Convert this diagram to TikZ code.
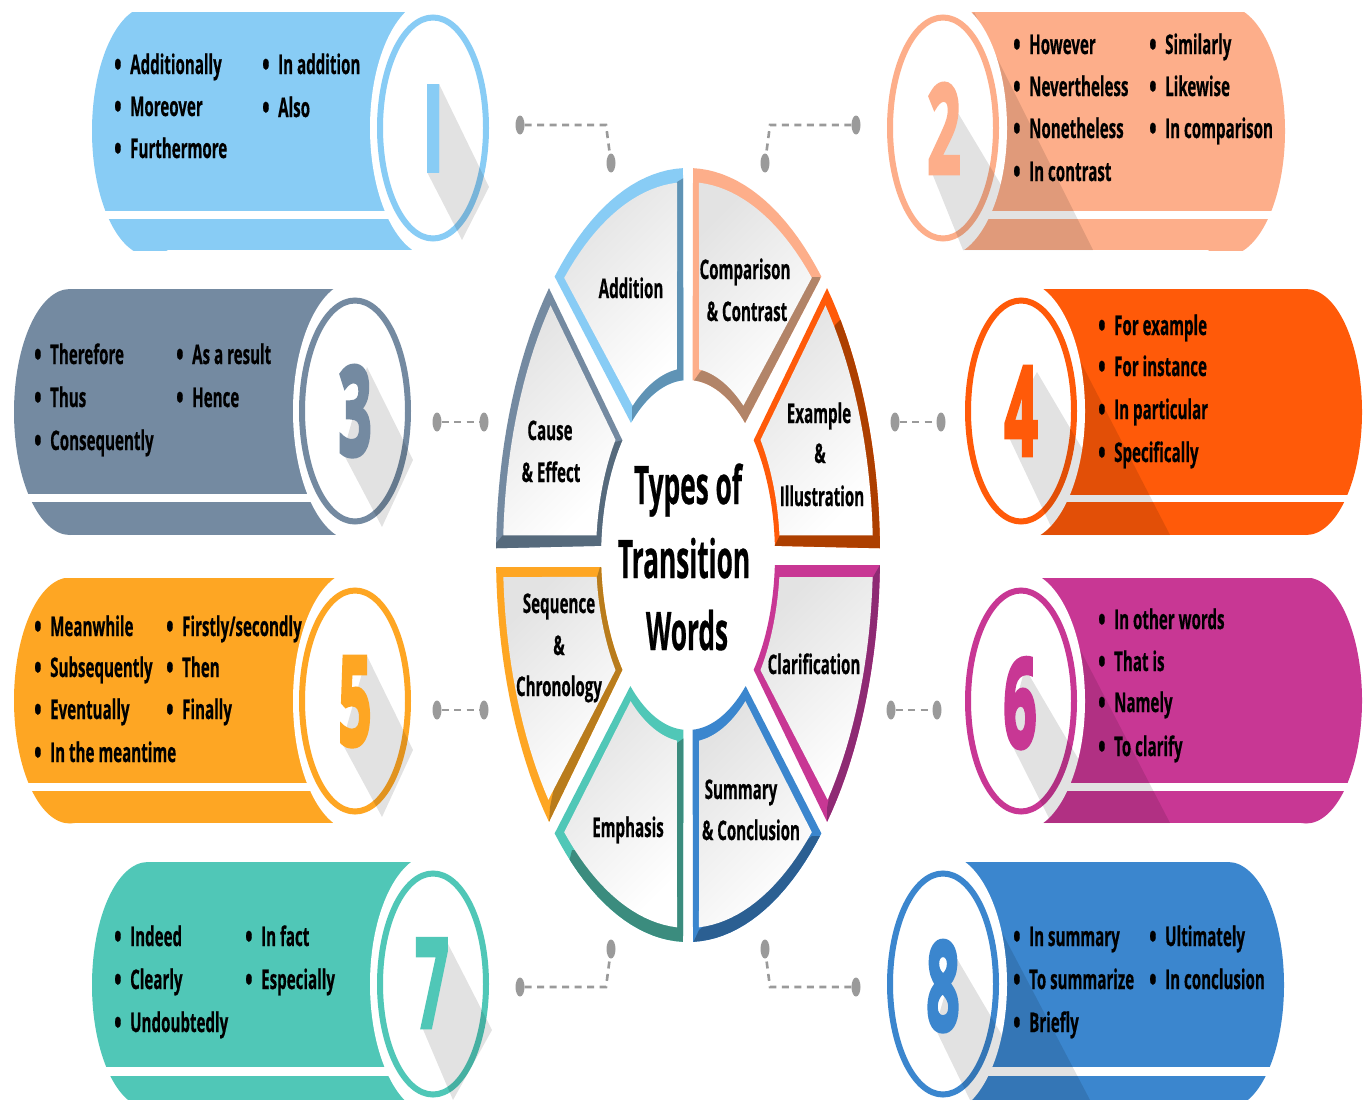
\documentclass[tikz,border=0pt]{standalone}
\usepackage{fontspec}
\usepackage{graphicx}
\setmainfont{Open Sans}[BoldFeatures={FakeBold=0.7}]
\newfontfamily\digitface{Open Sans}[BoldFeatures={FakeBold=4}]
\usetikzlibrary{shapes.geometric}
\definecolor{cA}{HTML}{88CCF5}\definecolor{cAd}{HTML}{5F93B5}
\definecolor{cB}{HTML}{FDAE8A}\definecolor{cBd}{HTML}{B28468}
\definecolor{cC}{HTML}{748AA1}\definecolor{cCd}{HTML}{566A7C}
\definecolor{cD}{HTML}{FF5A09}\definecolor{cDd}{HTML}{AD3F00}
\definecolor{cE}{HTML}{FEA623}\definecolor{cEd}{HTML}{B97C1C}
\definecolor{cF}{HTML}{C83794}\definecolor{cFd}{HTML}{8E2A73}
\definecolor{cG}{HTML}{50C7B7}\definecolor{cGd}{HTML}{3B8C7E}
\definecolor{cH}{HTML}{3B86CE}\definecolor{cHd}{HTML}{2B5F92}
\definecolor{dotgray}{HTML}{9A9A9A}
\newcommand{\sq}[1]{\scalebox{.56}[1]{#1}}
\newcommand{\sqt}[1]{\scalebox{.495}[1]{#1}}
\newcommand{\OA}[2]{plot[domain=#1:#2,samples=20] ({688+192*cos(\x)},{555-387*sin(\x)})}
\newcommand{\IA}[2]{-- plot[domain=#1:#2,samples=20] ({688+87*cos(\x)},{555-175*sin(\x)})}
\newcommand{\OB}[2]{plot[domain=#1:#2,samples=20] ({688+185*cos(\x)},{555-373*sin(\x)})}
\newcommand{\IB}[2]{-- plot[domain=#1:#2,samples=20] ({688+92*cos(\x)},{555-187*sin(\x)})}
\tikzset{
  itemtext/.style={anchor=base west,inner sep=0pt,font=\fontsize{27}{27}\selectfont\bfseries,text=black},
  seglabel/.style={anchor=base,inner sep=0pt,font=\fontsize{27}{27}\selectfont\bfseries,text=black},
  titletext/.style={anchor=base,inner sep=0pt,font=\fontsize{53}{53}\selectfont\bfseries,text=black},
  digit/.style={anchor=base,inner sep=0pt,font=\digitface\fontsize{123}{123}\selectfont\bfseries},
  cellfill/.style={top color=black!11,middle color=white,bottom color=white,shading angle=45},
  ringline/.style={line width=6pt,fill=none},
  shadowpoly/.style={fill=black,fill opacity=.115},
  dotend/.style={shape=ellipse,fill=dotgray,minimum width=9pt,minimum height=19pt,inner sep=0pt},
  conn/.style={draw=dotgray,line width=2.6pt,dash pattern=on 7pt off 5.5pt}
}
% name x y text (x = left edge of the words)
\newcommand{\bul}[4]{\node[itemtext] (#1) at ({#2-16},{#3-1}) {\sq{\makebox[28.5pt][l]{\raisebox{-3pt}{\scalebox{1.3}{•}}}#4}};}
\newcommand{\seglab}[4]{\node[seglabel] (#1) at (#2,#3) {\sq{#4}};}
% body: colour, ellipse x, ellipse rx, ellipse ry, ring x, top, bottom, unused, ellipse y shift
\newcommand{\body}[9]{%
  \begin{scope}
    \clip (0,#6) rectangle (1365,#7);
    \fill[#1] (#2,{(#6+#7)/2+#9}) ellipse [x radius=#3,y radius=#4];
    \fill[#1] (#2,#6) rectangle (#5,#7);
  \end{scope}}
\newcommand{\seg}[5]{%
  \fill[#1] #3;
  \begin{scope}\clip #3; \fill[#2] #4;\end{scope}
  \shade[cellfill] #5;}
\begin{document}
\begin{tikzpicture}[x=1pt,y=-1pt]
\useasboundingbox (0,0) rectangle (1365,1100);
\clip (0,0) rectangle (1365,1100);
\fill[white] (0,0) rectangle (1365,1100);

% ---------- panel 1
\body{cA}{150}{58}{125}{433}{12}{250}{}{0}
\fill[white] (0,211) rectangle (433,219);
\fill[white] (433,128) ellipse [x radius=63,y radius=129];
\draw[cA,ringline] (433,128) ellipse [x radius=53,y radius=110.5];
\fill[shadowpoly] (439,84) -- (489,187) -- (462,240) -- (427,172) -- cycle;
\begin{scope}\clip (427,84) rectangle (439,172);
\node[digit,anchor=base west,text=cA] (n1) at (406,172) {\scalebox{.65}[1]{1}};
\end{scope}
\bul{a1}{130}{75}{Additionally}
\bul{a2}{130}{117}{Moreover}
\bul{a3}{130}{159}{Furthermore}
\bul{a4}{278}{75}{In addition}
\bul{a5}{278}{118}{Also}

% ---------- panel 2
\body{cB}{1226}{59}{125}{943}{12}{250}{}{0}
\fill[white] (943,211) rectangle (1365,219);
\fill[shadowpoly] (974,12) -- (1093,250) -- (963,250) -- (900,130) -- cycle;
\fill[white] (943,128) ellipse [x radius=64,y radius=129];
\draw[cB,ringline] (943,128) ellipse [x radius=53,y radius=110.5];
\begin{scope}\clip (943,128) ellipse [x radius=64,y radius=129];
\fill[shadowpoly] (958,113) -- (1040,250) -- (963,250) -- (932,173) -- cycle;
\end{scope}
\node[digit,text=cB] (n2) at (944,173) {\scalebox{.47}[1]{2}};
\bul{b1}{1029}{55}{However}
\bul{b2}{1029}{97}{Nevertheless}
\bul{b3}{1029}{139}{Nonetheless}
\bul{b4}{1029}{182}{In contrast}
\bul{b5}{1165}{55}{Similarly}
\bul{b6}{1165}{97}{Likewise}
\bul{b7}{1165}{139}{In comparison}

% ---------- panel 3
\body{cC}{70}{56}{123}{355}{289}{535}{}{0}
\fill[white] (0,494) rectangle (355,502);
\fill[white] (355,411) ellipse [x radius=62,y radius=130];
\draw[cC,ringline] (355,411) ellipse [x radius=53,y radius=110.5];
\fill[shadowpoly] (367,367) -- (413,460) -- (382,527) -- (343,453) -- cycle;
\node[digit,text=cC] (n3) at (355,455) {\scalebox{.47}[1]{3}};
\bul{c1}{50}{365}{Therefore}
\bul{c2}{50}{408}{Thus}
\bul{c3}{50}{451}{Consequently}
\bul{c4}{192}{365}{As a result}
\bul{c5}{192}{408}{Hence}

% ---------- panel 4
\body{cD}{1306}{56}{123}{1021}{289}{535}{}{0}
\fill[white] (1021,495) rectangle (1365,502);
\fill[shadowpoly] (1043,289) -- (1170,535) -- (1040,535) -- (975,411) -- cycle;
\fill[white] (1021,411) ellipse [x radius=64,y radius=130];
\draw[cD,ringline] (1021,411) ellipse [x radius=53,y radius=110.5];
\begin{scope}\clip (1021,411) ellipse [x radius=64,y radius=130];
\fill[shadowpoly] (1037,372) -- (1133,535) -- (1055,535) -- (1005,429) -- cycle;
\end{scope}
\node[digit,text=cD] (n4) at (1021,455) {\scalebox{.47}[1]{4}};
\bul{d1}{1114}{336}{For example}
\bul{d2}{1114}{377}{For instance}
\bul{d3}{1114}{420}{In particular}
\bul{d4}{1114}{463}{Specifically}

% ---------- panel 5
\body{cE}{70}{56}{123}{355}{578}{823}{}{0}
\fill[white] (0,783) rectangle (355,791);
\fill[white] (355,701) ellipse [x radius=62,y radius=130];
\draw[cE,ringline] (355,701) ellipse [x radius=53,y radius=110.5];
\fill[shadowpoly] (367,656) -- (413,750) -- (382,817) -- (342,743) -- cycle;
\node[digit,text=cE] (n5) at (355,745) {\scalebox{.47}[1]{5}};
\bul{e1}{50}{637}{Meanwhile}
\bul{e2}{50}{678}{Subsequently}
\bul{e3}{50}{720}{Eventually}
\bul{e4}{50}{763}{In the meantime}
\bul{e5}{182}{637}{Firstly/secondly}
\bul{e6}{182}{678}{Then}
\bul{e7}{182}{720}{Finally}

% ---------- panel 6
\body{cF}{1306}{56}{123}{1021}{578}{823}{}{0}
\fill[white] (1021,783) rectangle (1365,791);
\fill[shadowpoly] (1043,578) -- (1170,823) -- (1040,823) -- (975,700) -- cycle;
\fill[white] (1021,701) ellipse [x radius=64,y radius=130];
\draw[cF,ringline] (1021,701) ellipse [x radius=53,y radius=110.5];
\begin{scope}\clip (1021,701) ellipse [x radius=64,y radius=130];
\fill[shadowpoly] (1025,668) -- (1120,830) -- (1055,830) -- (1007,735) -- cycle;
\end{scope}
\node[digit,text=cF] (n6) at (1020,747) {\scalebox{.47}[1]{6}};
\bul{f1}{1114}{630}{In other words}
\bul{f2}{1114}{672}{That is}
\bul{f3}{1114}{713}{Namely}
\bul{f4}{1114}{757}{To clarify}

% ---------- panel 7
\body{cG}{148}{56}{123}{433}{862}{1108}{}{0}
\fill[white] (0,1067) rectangle (433,1076);
\fill[white] (433,984) ellipse [x radius=63,y radius=130];
\draw[cG,ringline] (433,984) ellipse [x radius=53,y radius=110.5];
\fill[shadowpoly] (447,942) -- (492,1030) -- (453,1100) -- (422,1027) -- cycle;
\node[digit,text=cG] (n7) at (432,1027) {\scalebox{.47}[1]{7}};
\bul{g1}{130}{947}{Indeed}
\bul{g2}{130}{990}{Clearly}
\bul{g3}{130}{1033}{Undoubtedly}
\bul{g4}{261}{947}{In fact}
\bul{g5}{261}{990}{Especially}

% ---------- panel 8
\body{cH}{1228}{56}{123}{943}{862}{1108}{}{0}
\fill[white] (943,1067) rectangle (1365,1076);
\fill[shadowpoly] (965,862) -- (1090,1100) -- (963,1100) -- (900,984) -- cycle;
\fill[white] (943,984) ellipse [x radius=64,y radius=130];
\draw[cH,ringline] (943,984) ellipse [x radius=53,y radius=110.5];
\begin{scope}\clip (943,984) ellipse [x radius=64,y radius=130];
\fill[shadowpoly] (956,957) -- (1040,1100) -- (970,1100) -- (935,1028) -- cycle;
\end{scope}
\node[digit,text=cH] (n8) at (943,1030) {\scalebox{.47}[1]{8}};
\bul{h1}{1029}{947}{In summary}
\bul{h2}{1029}{990}{To summarize}
\bul{h3}{1029}{1033}{Briefly}
\bul{h4}{1165}{947}{Ultimately}
\bul{h5}{1165}{990}{In conclusion}

% ---------- wheel
\seg{cA}{cAd}{\OA{91.5}{134} \IA{131}{93} -- cycle}
  {(677,182) -- (700,168) -- (700,440) -- (632,440) -- (632,408) -- cycle}
  {\OB{93.4}{132} \IB{127}{96.9} -- cycle}
\seg{cC}{cCd}{\OA{136.4}{179} \IA{177}{139} -- cycle}
  {(623,440) -- (615,442) -- (503,535) -- (490,550) -- (640,550) -- (640,440) -- cycle}
  {\OB{177}{138} \IB{142}{174} -- cycle}
\seg{cB}{cBd}{\OA{88.5}{46} \IA{49}{87} -- cycle}
  {(820,277) -- (812,277) -- (700,372) -- (693,382) -- (693,440) -- (830,440) -- cycle}
  {\OB{86.6}{48} \IB{53}{83.1} -- cycle}
\seg{cD}{cDd}{\OA{43.6}{1} \IA{3}{41} -- cycle}
  {(835,325) -- (845,315) -- (890,315) -- (890,555) -- (770,555) -- (780,535) -- cycle}
  {\OB{3}{42} \IB{38}{6} -- cycle}
\seg{cE}{cEd}{\OA{181.8}{223.6} \IA{221}{184} -- cycle}
  {(600,567) -- (597,577) -- (550,807) -- (549,823) -- (640,823) -- (640,567) -- cycle}
  {\OB{183.4}{221} \IB{218}{186.7} -- cycle}
\seg{cG}{cGd}{\OA{226}{268.5} \IA{267}{228.5} -- cycle}
  {(677,743) -- (695,730) -- (695,960) -- (545,960) -- (572,850) -- (677,850) -- cycle}
  {\OB{228}{266.6} \IB{263}{231.4} -- cycle}
\seg{cH}{cHd}{\OA{271.5}{314} \IA{311.5}{273} -- cycle}
  {(820,836) -- (812,836) -- (699,930) -- (693,943) -- (830,950) -- cycle}
  {\OB{273.4}{312} \IB{308.6}{277} -- cycle}
\seg{cF}{cFd}{\OA{358.5}{316.4} \IA{319}{356.7} -- cycle}
  {(880,565) -- (873,577) -- (827,808) -- (827,823) -- (890,823) -- (890,565) -- cycle}
  {\OB{356.6}{319} \IB{322}{353.2} -- cycle}

\seglab{s1}{631}{298}{Addition}
\seglab{s2a}{745}{279}{Comparison}
\seglab{s2b}{747}{321}{\& Contrast}
\seglab{s3a}{550}{440}{Cause}
\seglab{s3b}{551}{482}{\& Effect}
\seglab{s4a}{819}{423}{Example}
\seglab{s4b}{820}{463}{\&}
\seglab{s4c}{822}{506}{Illustration}
\seglab{s5a}{559}{613}{Sequence}
\seglab{s5b}{559}{655}{\&}
\seglab{s5c}{559}{696}{Chronology}
\seglab{s6}{814}{674}{Clarification}
\seglab{s7}{628}{837}{Emphasis}
\seglab{s8a}{741}{799}{Summary}
\seglab{s8b}{751}{840}{\& Conclusion}

\node[titletext] (t1) at (688,504) {\sqt{Types of}};
\node[titletext] (t2) at (684,578) {\sqt{Transition}};
\node[titletext] (t3) at (687,650) {\sqt{Words}};

% ---------- connectors
\node[dotend] (p1a) at (520,125) {};
\node[dotend] (p1b) at (611,163) {};
\coordinate (e1) at (606,125);
\draw[conn] (p1a) -- (e1) -- (p1b);
\node[dotend] (p2a) at (856,125) {};
\node[dotend] (p2b) at (765,163) {};
\coordinate (e2) at (770,125);
\draw[conn] (p2a) -- (e2) -- (p2b);
\node[dotend] (p3a) at (437,422) {};
\node[dotend] (p3b) at (484,422) {};
\draw[conn] (p3a) -- (p3b);
\node[dotend] (p4a) at (895,422) {};
\node[dotend] (p4b) at (941,422) {};
\draw[conn] (p4a) -- (p4b);
\node[dotend] (p5a) at (437,710) {};
\node[dotend] (p5b) at (484,710) {};
\draw[conn] (p5a) -- (p5b);
\node[dotend] (p6a) at (891,710) {};
\node[dotend] (p6b) at (937,710) {};
\draw[conn] (p6a) -- (p6b);
\node[dotend] (p7a) at (520,987) {};
\node[dotend] (p7b) at (611,949) {};
\coordinate (e7) at (606,987);
\draw[conn] (p7a) -- (e7) -- (p7b);
\node[dotend] (p8a) at (856,987) {};
\node[dotend] (p8b) at (765,949) {};
\coordinate (e8) at (770,987);
\draw[conn] (p8a) -- (e8) -- (p8b);
\end{tikzpicture}
\end{document}
